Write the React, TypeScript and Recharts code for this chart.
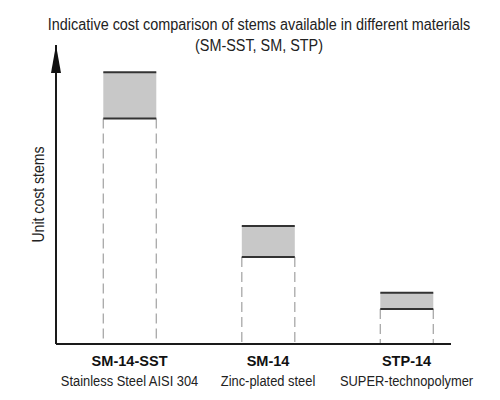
import React from 'react';
import { BarChart, Bar, XAxis, YAxis } from 'recharts';

const codes = ['SM-14-SST', 'SM-14', 'STP-14'];
const materials = ['Stainless Steel AISI 304', 'Zinc-plated steel', 'SUPER-technopolymer'];
const positions = [1, 2, 3];
const lowCost = [75.4, 29.1, 11.7];
const highCost = [90.9, 39.5, 17.1];

const data = codes.map((c, i) => ({
  code: c,
  pos: positions[i],
  low: lowCost[i],
  band: +(highCost[i] - lowCost[i]).toFixed(2),
}));

const FONT = '"Liberation Sans", Arial, sans-serif';

const LowerShape = (props: any) => {
  const { x, y, width, height } = props;
  if (height <= 0) return null;
  const s = { stroke: '#a8a8a8', strokeWidth: 1.3, strokeDasharray: '10 5' };
  return (
    <g>
      <line x1={x} y1={y} x2={x} y2={y + height} {...s} />
      <line x1={x + width} y1={y} x2={x + width} y2={y + height} {...s} />
    </g>
  );
};

const UpperShape = (props: any) => {
  const { x, y, width, height } = props;
  return (
    <g>
      <rect x={x} y={y} width={width} height={height} fill="#c8c8c8" stroke="none" />
      <line x1={x} y1={y} x2={x + width} y2={y} stroke="#333" strokeWidth={2} />
      <line x1={x} y1={y + height} x2={x + width} y2={y + height} stroke="#333" strokeWidth={2} />
    </g>
  );
};

const Tick = (props: any) => {
  const { x, y, payload } = props;
  const i = positions.indexOf(payload.value);
  if (i < 0) return null;
  return (
    <g>
      <text
        transform={`translate(${x},${y + 22}) scale(0.97,1)`}
        textAnchor="middle"
        fontFamily={FONT}
        fontSize={15}
        fontWeight="bold"
        fill="#111"
      >
        {codes[i]}
      </text>
      <text
        transform={`translate(${x},${y + 42}) scale(0.86,1)`}
        textAnchor="middle"
        fontFamily={FONT}
        fontSize={15}
        fill="#222"
      >
        {materials[i]}
      </text>
    </g>
  );
};

const YLabel = (props: any) => {
  const vb = props.viewBox || {};
  const cx = vb.x + vb.width / 2 + 10;
  const cy = vb.y + vb.height / 2;
  return (
    <text
      transform={`translate(${cx},${cy}) rotate(-90) scale(0.88,1)`}
      textAnchor="middle"
      dominantBaseline="central"
      fontFamily={FONT}
      fontSize={16}
      fill="#222"
    >
      Unit cost stems
    </text>
  );
};

export default function App() {
  return (
    <div style={{ position: 'absolute', left: 0, top: 0, width: 500, height: 400, background: '#fff' }}>
      <div
        style={{
          position: 'absolute',
          left: 0,
          top: 14,
          width: 518,
          textAlign: 'center',
          fontFamily: FONT,
          fontSize: 16,
          lineHeight: '21px',
          color: '#222',
          transform: 'scaleX(0.9)',
          transformOrigin: '259px 0',
          whiteSpace: 'nowrap',
        }}
      >
        <div>Indicative cost comparison of stems available in different materials</div>
        <div>(SM-SST, SM, STP)</div>
      </div>
      <BarChart width={500} height={400} data={data} margin={{ top: 45, right: 49, left: 0, bottom: 0 }}>
        <defs>
          <marker
            id="arrowHead"
            markerUnits="userSpaceOnUse"
            markerWidth={10}
            markerHeight={28}
            viewBox="0 0 10 28"
            refX={5}
            refY={0}
            orient="0"
          >
            <path d="M0,28 L5,0 L10,28 Z" fill="#111" />
          </marker>
        </defs>
        <XAxis
          type="number"
          dataKey="pos"
          domain={[0.469, 3.321]}
          allowDataOverflow
          ticks={positions}
          tick={<Tick />}
          tickLine={false}
          tickSize={0}
          tickMargin={0}
          height={56}
          axisLine={{ stroke: '#1a1a1a', strokeWidth: 2 }}
          interval={0}
        />
        <YAxis
          type="number"
          domain={[0, 100]}
          width={56}
          tick={false}
          tickLine={false}
          axisLine={{ stroke: '#1a1a1a', strokeWidth: 2, markerStart: 'url(#arrowHead)' }}
          label={{ content: <YLabel /> }}
        />
        <Bar dataKey="low" stackId="a" barSize={53} shape={<LowerShape />} isAnimationActive={false} />
        <Bar dataKey="band" stackId="a" barSize={53} shape={<UpperShape />} isAnimationActive={false} />
      </BarChart>
    </div>
  );
}
